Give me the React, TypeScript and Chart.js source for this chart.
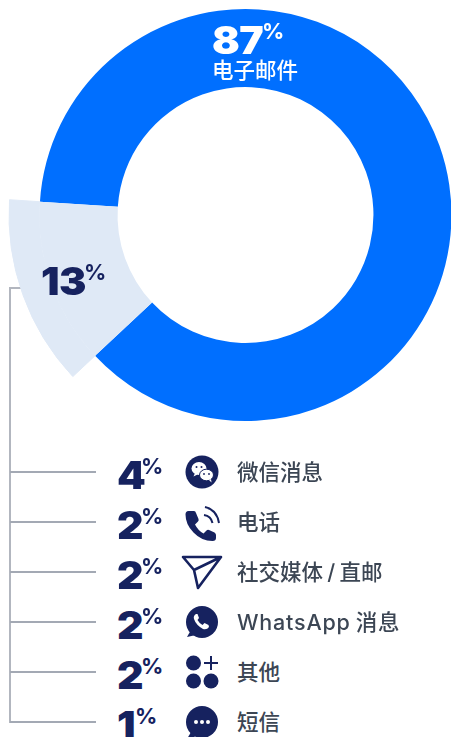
import React, { useEffect, useRef } from "react";
import { Chart, registerables } from "chart.js";

Chart.register(...registerables);

const categories = ["电子邮件", "其他渠道"];
const shares = [87, 13];
const rowValues = ["4", "2", "2", "2", "2", "1"];
const rowNames = ["微信消息", "电话", "社交媒体 / 直邮", "WhatsApp 消息", "其他", "短信"];
const rowY = [472, 522, 572, 622, 672, 722];

const NAVY = "#16225f";
const BLUE = "#006fff";
const LIGHT = "#dfe9f6";
const NUM_FONT = "Inter, 'Open Sans', sans-serif";
const CJK_FONT = "Inter, 'Noto Sans CJK SC', sans-serif";

function Pct({ x, y, value, color, pctX }: { x: number; y: number; value: string; color: string; pctX: number }) {
  return (
    <>
      <span style={{ position: "absolute", left: x, top: y - 22, fontFamily: NUM_FONT, fontWeight: 900, fontSize: 38, lineHeight: "44px", transform: "scaleX(1.08)", transformOrigin: "left center", letterSpacing: -0.5, color, whiteSpace: "nowrap" }}>{value}</span>
      <span style={{ position: "absolute", left: pctX, top: y - 21, fontFamily: NUM_FONT, fontWeight: 700, fontSize: 22, lineHeight: "24px", letterSpacing: -1, color, whiteSpace: "nowrap" }}>%</span>
    </>
  );
}

function Icons() {
  return (
    <svg width={451} height={737} style={{ position: "absolute", left: 0, top: 0 }}>
      {/* WeChat */}
      <circle cx={202} cy={472} r={16.5} fill={NAVY} />
      <ellipse cx={199} cy={468.5} rx={7.5} ry={6.5} fill="#fff" />
      <path d="M195 473 l-1.5 3.5 l4-2z" fill="#fff" />
      <ellipse cx={206.5} cy={475} rx={7} ry={5.8} fill="#fff" stroke={NAVY} strokeWidth={1} />
      <path d="M209 480 l2.5 2.5 l-.5-3.5z" fill="#fff" />
      <circle cx={196.5} cy={467} r={1} fill={NAVY} />
      <circle cx={201.5} cy={467} r={1} fill={NAVY} />
      <circle cx={204} cy={474} r={.9} fill={NAVY} />
      <circle cx={209} cy={474} r={.9} fill={NAVY} />
      {/* Phone */}
      <path d="M188 511 h6 q1.500 0 2 2 l2.500 6 q.5 1.500-.5 2.500 l-3 3 q3 6 8.500 9 l3-3 q1-1 2.500-.5 l5.500 2.500 q1.500 1 1.500 2.500 v3 q0 3-3.500 3 q-11 0-19-8.500 q-8-8-8-18 q0-3.500 3-3.500z" fill={NAVY} />
      <path d="M205 507 q12 3 14 16" fill="none" stroke={NAVY} strokeWidth={2} />
      <path d="M204 515 q7 1 8.500 8" fill="none" stroke={NAVY} strokeWidth={2} />
      {/* Paper plane */}
      <path d="M183 557 H221 L198 588 L194 570 Z M194 570 L221 557" fill="none" stroke={NAVY} strokeWidth={2.600} strokeLinejoin="round" />
      {/* WhatsApp */}
      <circle cx={202} cy={622} r={16} fill={NAVY} />
      <path d="M191 630 L187 637 L196 635z" fill={NAVY} />
      <path d="M196 614 q-3 2-2 5 q2 6 9 10 q4 1 6-2 l-.5-2 l-4-2 l-2 2 q-3-1.500-5-5 l1.500-2 l-1.500-4z" fill="#fff" />
      {/* Other */}
      <circle cx={193.500} cy={663} r={7.500} fill={NAVY} />
      <path d="M211 656 v14 M204 663 h14" stroke={NAVY} strokeWidth={2} />
      <circle cx={193.500} cy={681} r={7.500} fill={NAVY} />
      <circle cx={211} cy={681} r={7.500} fill={NAVY} />
      {/* SMS */}
      <circle cx={202} cy={722} r={16} fill={NAVY} />
      <path d="M191 732 L187 739 L197 736z" fill={NAVY} />
      <circle cx={196} cy={722} r={2} fill="#fff" />
      <circle cx={202} cy={722} r={2} fill="#fff" />
      <circle cx={208} cy={722} r={2} fill="#fff" />
    </svg>
  );
}

export default function App() {
  const ref = useRef<HTMLCanvasElement>(null);
  useEffect(() => {
    document.body.style.margin = "0";
    document.body.style.background = "#fff";
    const chart = new Chart(ref.current!, {
      type: "doughnut",
      data: {
        labels: categories,
        datasets: [
          { data: shares, backgroundColor: ["rgba(0,0,0,0)", LIGHT], borderWidth: [0, 1], borderColor: LIGHT, weight: 30.5 } as any,
          { data: shares, backgroundColor: [BLUE, LIGHT], borderWidth: 0, weight: 78 } as any,
        ],
      },
      options: {
        responsive: false,
        animation: false,
        rotation: 273.7,
        cutout: "54.1%",
        radius: 236.5,
        plugins: { legend: { display: false }, tooltip: { enabled: false } },
      },
    });
    return () => chart.destroy();
  }, []);

  return (
    <div style={{ position: "relative", width: 451, height: 737, overflow: "hidden", background: "#fff" }}>
      <div style={{ position: "absolute", left: 9, top: 287, width: 2, height: 436, background: "#b2b6bf" }} />
      <div style={{ position: "absolute", left: 9, top: 287, width: 25, height: 2, background: "#b2b6bf" }} />
      {rowY.map((y) => (
        <div key={y} style={{ position: "absolute", left: 10, top: y - 1, width: 86, height: 2, background: "#a3a9b4" }} />
      ))}
      <canvas ref={ref} width={491} height={490} style={{ position: "absolute", left: 0, top: -30, width: 491, height: 490 }} />
      <Pct x={212} y={40} value={String(shares[0])} color="#fff" pctX={262} />
      <div style={{ position: "absolute", left: 212, top: 56, fontFamily: CJK_FONT, fontSize: 21.5, lineHeight: "28px", fontWeight: 500, color: "#fff", whiteSpace: "nowrap" }}>{categories[0]}</div>
      <Pct x={41} y={281} value={String(shares[1])} color={NAVY} pctX={84} />
      {rowNames.map((name, i) => (
        <React.Fragment key={name}>
          <Pct x={117} y={rowY[i] + 3} value={rowValues[i]} color={NAVY} pctX={rowValues[i] === "1" ? 135 : 141} />
          <div style={{ position: "absolute", left: 237, top: rowY[i] - 14, fontFamily: CJK_FONT, fontSize: 21.5, lineHeight: "28px", fontWeight: 500, wordSpacing: -1.5, letterSpacing: /[A-Za-z]/.test(name) ? 0.8 : 0, color: "#3c4654", whiteSpace: "nowrap" }}>{name}</div>
        </React.Fragment>
      ))}
      <Icons />
    </div>
  );
}
